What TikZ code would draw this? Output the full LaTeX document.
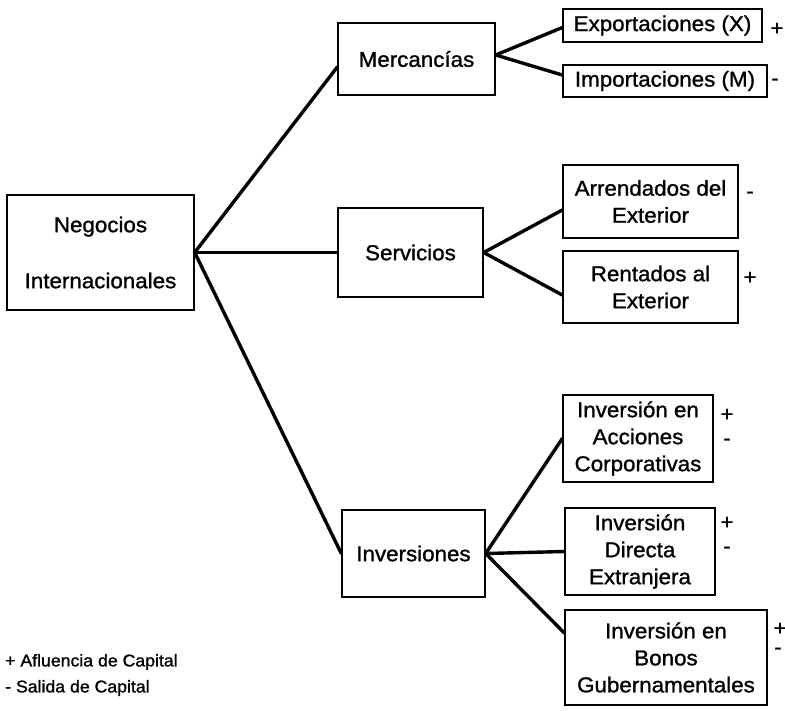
\documentclass[tikz,border=0pt]{standalone}
\usepackage{fontspec}
\setmainfont{Liberation Sans}[FakeStretch=1.04, FakeBold=1.2]
\begin{document}
\begin{tikzpicture}[x=1pt,y=-1pt,
  box/.style={draw, line width=1.4pt, inner sep=0pt, align=center,
    font=\fontsize{21.5}{27}\selectfont},
  sign/.style={inner sep=0pt, font=\fontsize{21}{23}\selectfont},
  legend/.style={inner sep=0pt, anchor=west, font=\fontsize{17}{20}\selectfont},
  link/.style={line width=3.4pt, line cap=round, line join=round}]
\useasboundingbox (0,0) rectangle (785,710);

% root and first level
\node[box, minimum width=187pt, minimum height=115pt] (neg) at (100.5,252.5)
  {Negocios\\[29pt]Internacionales};
\node[box, minimum width=157pt, minimum height=72pt] (merc) at (416.5,59) {Mercancías};
\node[box, minimum width=145pt, minimum height=89pt] (serv) at (410.5,252.5) {Servicios};
\node[box, minimum width=143pt, minimum height=87pt] (inv) at (413.5,553.5) {Inversiones};

% second level
\node[box, minimum width=199pt, minimum height=33pt] (exp) at (662.5,25.5) {Exportaciones (X)};
\node[box, minimum width=204pt, minimum height=32pt] (imp) at (665,81) {Importaciones (M)};
\node[box, minimum width=175pt, minimum height=73pt] (arr) at (650.5,201.5) {Arrendados del\\Exterior};
\node[box, minimum width=175pt, minimum height=72pt] (ren) at (650.5,287) {Rentados al\\Exterior};
\node[box, minimum width=150pt, minimum height=87pt] (acc) at (638,438.5) {Inversión en\\Acciones\\Corporativas};
\node[box, minimum width=150pt, minimum height=87pt] (dir) at (640,551.5) {Inversión\\Directa\\Extranjera};
\node[box, minimum width=202pt, minimum height=95pt] (bon) at (666,657.5) {Inversión en\\Bonos\\Gubernamentales};

% capital flow signs
\node[sign] (sexp) at (777,29) {+};
\node[sign] (simp) at (775,82) {-};
\node[sign] (sarr) at (750,195) {-};
\node[sign] (sren) at (750,278) {+};
\node[sign] (sacc1) at (727,415) {+};
\node[sign] (sacc2) at (727,442) {-};
\node[sign] (sdir1) at (727,523) {+};
\node[sign] (sdir2) at (727,550) {-};
\node[sign] (sbon1) at (780,629) {+};
\node[sign] (sbon2) at (778,651) {-};

% legend
\node[legend] (leg1) at (5,662) {+ Afluencia de Capital};
\node[legend] (leg2) at (5,688) {- Salida de Capital};

% connectors
\draw[link] (neg.east) -- ([yshift=-8pt]merc.west);
\draw[link] (neg.east) -- (serv.west);
\draw[link] (neg.east) -- (inv.west);
\draw[link] ([yshift=4pt]merc.east) -- ([yshift=-2pt]exp.west);
\draw[link] ([yshift=4pt]merc.east) -- ([yshift=6pt]imp.west);
\draw[link] (serv.east) -- ([yshift=-8.5pt]arr.west);
\draw[link] (serv.east) -- ([yshift=-8pt]ren.west);
\draw[link] (inv.east) -- (acc.west);
\draw[link] (inv.east) -- (dir.west);
\draw[link] (inv.east) -- ([yshift=24.5pt]bon.west);
\end{tikzpicture}
\end{document}
